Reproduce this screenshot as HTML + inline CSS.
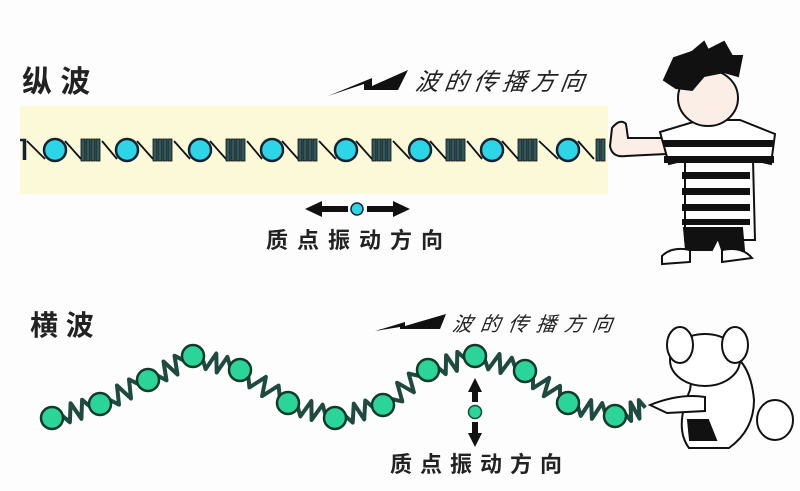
<!DOCTYPE html>
<html><head><meta charset="utf-8"><style>
html,body{margin:0;padding:0;background:#fdfdfd;}
svg{display:block}
</style></head><body>
<svg id="s" width="800" height="491" viewBox="0 0 800 491" xmlns="http://www.w3.org/2000/svg">
<rect width="800" height="491" fill="#fdfdfd"/>
<rect x="20" y="106" width="588" height="88" fill="#fbf9d8"/>
<text x="22" y="92" font-family="'Liberation Sans','Noto Sans CJK SC',sans-serif" font-size="30" font-weight="bold" fill="#222">纵 波</text>
<text x="30" y="335" font-family="'Liberation Sans','Noto Sans CJK SC',sans-serif" font-size="28" font-weight="bold" fill="#222">横 波</text>
<polygon points="328,96 372,78 372,86 408,70 398,90 364,90 364,84" fill="#111"/>
<text x="415" y="90" font-family="'Liberation Sans','Noto Sans CJK SC',sans-serif" font-size="24" font-style="italic" fill="#222" letter-spacing="5" transform="skewX(-8) translate(12,0)">波的传播方向</text>
<polygon points="375,331 405,322 405,326 446,314 440,329 400,329 400,327" fill="#111"/>
<text x="452" y="331" font-family="'Liberation Sans','Noto Sans CJK SC',sans-serif" font-size="20" font-style="italic" fill="#222" letter-spacing="8" transform="skewX(-8) translate(46,0)">波的传播方向</text>
<g id="tg"></g><g id="bg"></g>
<polygon points="305,209 322,201 322,206 348,206 348,212 322,212 322,217" fill="#111"/>
<polygon points="410,209 393,201 393,206 367,206 367,212 393,212 393,217" fill="#111"/>
<circle cx="357" cy="209" r="6" fill="#2cd6e6" stroke="#123" stroke-width="1.5"/>
<text x="266" y="248" font-family="'Liberation Sans','Noto Sans CJK SC',sans-serif" font-size="22" font-weight="bold" fill="#222" letter-spacing="9">质点振动方向</text>
<polygon points="475,378 468,392 472,392 472,402 478,402 478,392 482,392" fill="#111"/>
<polygon points="475,447 468,433 472,433 472,422 478,422 478,433 482,433" fill="#111"/>
<circle cx="475" cy="412" r="6.5" fill="#2bd59a" stroke="#1a4a38" stroke-width="1.5"/>
<text x="390" y="472" font-family="'Liberation Sans','Noto Sans CJK SC',sans-serif" font-size="22" font-weight="bold" fill="#222" letter-spacing="8">质点振动方向</text>
<g stroke="#111" stroke-width="2" fill="#fff">
<path d="M612,128 q8,-10 14,-4 l2,14 l38,0 l0,16 l-40,2 q-14,2 -16,-10z" fill="#fbeee6"/>
<path d="M660,132 l40,-12 l40,0 l35,14 l-4,30 l-18,-4 l2,80 l-70,0 l0,-80 l-16,4z"/>
<g stroke="none" fill="#111">
<rect x="663" y="140" width="110" height="7"/><rect x="664" y="156" width="110" height="7"/>
<rect x="682" y="172" width="68" height="7"/><rect x="682" y="188" width="68" height="7"/>
<rect x="682" y="204" width="68" height="7"/><rect x="682" y="219" width="68" height="6"/>
</g>
<path d="M684,228 l58,0 l2,22 l-22,0 l-4,-12 l-6,12 l-26,0z" fill="#111"/>
<path d="M662,256 q10,-10 28,-6 l0,12 l-28,2z M722,250 q20,-4 30,8 l-30,4z" fill="#fff"/>
<ellipse cx="708" cy="98" rx="30" ry="28" fill="#fbeee6"/>
<path d="M664,80 l10,-22 l18,-6 l12,-10 l4,8 l16,-8 l8,14 l10,0 l-4,20 l-14,-4 l-20,4 l-12,14 l-16,-2z" fill="#111"/>
</g>
<g stroke="#111" stroke-width="2" fill="#fff">
<path d="M690,390 q5,-40 30,-40 q30,5 34,50 q0,30 -25,48 l-40,0 q-15,-20 1,-58z"/>
<ellipse cx="775" cy="420" rx="18" ry="20"/>
<ellipse cx="705" cy="360" rx="35" ry="26"/>
<ellipse cx="680" cy="345" rx="13" ry="18"/>
<ellipse cx="735" cy="345" rx="13" ry="18"/>
<path d="M650,405 q30,-12 55,-8 l0,14 l-38,2z" fill="#fff"/>
<path d="M688,420 l20,0 l8,20 l-26,0z" fill="#111"/>
</g>
</svg>
<script>
(function(){
var NS="http://www.w3.org/2000/svg";
function el(p,t,a){var e=document.createElementNS(NS,t);for(var k in a)e.setAttribute(k,a[k]);p.appendChild(e);return e;}
var tg=document.getElementById("tg");
var xs=[55,127,200,272,346,420,492,568];
var y=150;
el(tg,"path",{d:"M20,140 l5,0 l0,20 M24,140 l0,20",stroke:"#123",fill:"none","stroke-width":"2.5"});
el(tg,"line",{x1:27,y1:141,x2:45,y2:159,stroke:"#111","stroke-width":"1.8"});
for(var i=0;i<xs.length;i++){
 var x=xs[i];
 el(tg,"line",{x1:x+10,y1:141,x2:x+26,y2:159,stroke:"#111","stroke-width":"1.8"});
 if(i<xs.length-1){
  var n=xs[i+1];
  for(var j=0;j<4;j++){el(tg,"rect",{x:x+26+j*5,y:139,width:4,height:22,fill:"#2d5a60",stroke:"#111","stroke-width":"0.8"});}
  el(tg,"line",{x1:x+47,y1:141,x2:n-10,y2:159,stroke:"#111","stroke-width":"1.8"});
 } else {
  el(tg,"rect",{x:x+28,y:139,width:4,height:22,fill:"#2d5a60",stroke:"#111","stroke-width":"0.8"});
  el(tg,"rect",{x:x+33,y:139,width:4,height:22,fill:"#2d5a60",stroke:"#111","stroke-width":"0.8"});
 }
 el(tg,"circle",{cx:x,cy:y,r:11,fill:"#2cd6e6",stroke:"#123","stroke-width":"2.5"});
}
var bg=document.getElementById("bg");
var pts=[[52,418],[100,404],[148,380],[193,356],[240,370],[288,403],[335,418],[383,405],[428,370],[475,356],[525,371],[568,403],[615,416]];
var all=pts.concat([[655,405]]);
for(var i=0;i<all.length-1;i++){
 var a=all[i],b=all[i+1],dx=b[0]-a[0],dy=b[1]-a[1],L=Math.sqrt(dx*dx+dy*dy),ux=dx/L,uy=dy/L,px=-uy,py=ux;
 var d="M"+(a[0]+ux*10)+","+(a[1]+uy*10);
 var k=4;
 for(var j=1;j<=k;j++){
  var t=10+(L-20)*j/(k+1), s=(j%2?1:-1)*9;
  d+=" L"+(a[0]+ux*t+px*s).toFixed(1)+","+(a[1]+uy*t+py*s).toFixed(1);
 }
 d+=" L"+(b[0]-ux*10)+","+(b[1]-uy*10);
 el(bg,"path",{d:d,stroke:"#1e4a40",fill:"none","stroke-width":"4","stroke-linejoin":"round"});
}
for(var i=0;i<pts.length;i++)el(bg,"circle",{cx:pts[i][0],cy:pts[i][1],r:11,fill:"#2bd59a",stroke:"#123a2c","stroke-width":"2.5"});
})();
</script>
</body></html>
